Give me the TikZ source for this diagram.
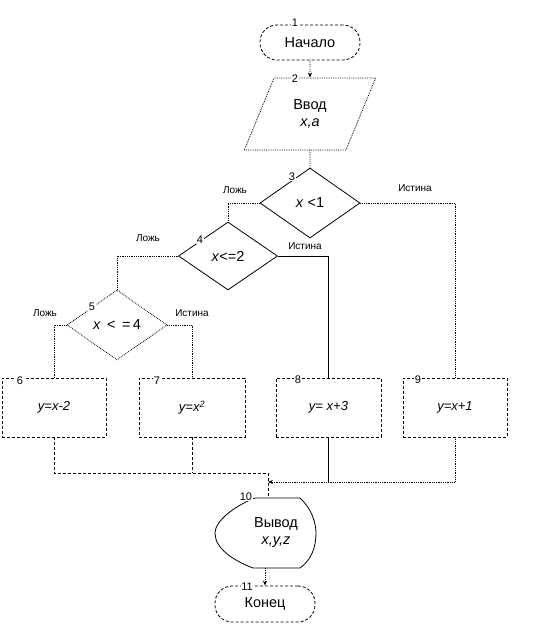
\documentclass[tikz,border=0pt]{standalone}
\usepackage{fontspec}
\setmainfont{Liberation Sans}
\usetikzlibrary{shapes.geometric,arrows.meta}

\begin{document}
\begin{tikzpicture}
[x=1pt,y=-1pt,line width=.8pt,
 every node/.style={font=\fontsize{14.5}{17}\selectfont},
 term/.style={draw,densely dashed,rounded corners=17pt,minimum width=100pt,minimum height=35pt},
 io/.style={draw,densely dotted,trapezium,trapezium left angle=65,trapezium right angle=115,
   trapezium stretches,minimum width=132pt,minimum height=72pt,align=center},
 cond/.style={draw,diamond,minimum width=100pt,minimum height=70pt,inner sep=0pt},
 act/.style={draw,densely dashed,minimum width=105pt,minimum height=59pt,font=\fontsize{13}{15}\selectfont\itshape},
 num/.style={fill=white,inner sep=.5pt,font=\fontsize{11}{13}\selectfont},
 lbl/.style={font=\fontsize{10}{12}\selectfont},
 flow/.style={densely dotted},
 tip/.style={-{Stealth[length=5pt,width=4pt]}}]
\useasboundingbox (0,0) rectangle (536,638);

\node[term] (start) at (310,42.5) {Начало};
\node[io] (in) at (310,114) {Ввод\\\textit{x,a}};
\node[cond] (d3) at (310,203) {\textit{x} <1};
\node[cond,minimum width=99pt,minimum height=68pt] (d4) at (228,256) {\textit{x}<=2};
\node[cond,densely dotted] (d5) at (117,325) {\textit{x} \,<\, =\,4};
\node[act,minimum width=104pt] (b6) at (54,407.5) {y=x-2};
\node[act,minimum width=106pt] (b7) at (192,407.5) {y=x\textsuperscript{2}};
\node[act] (b8) at (328.5,407.5) {y= x+3};
\node[act,minimum width=104pt] (b9) at (455,407.5) {y=x+1};
\node[align=center] (out) at (276,533) {Вывод\\\textit{x,y,z}};
\node[term,minimum height=36pt] (stop) at (265,604) {Конец};

% display symbol
\draw (255,498) -- (300,498) .. controls (311,508) and (316,522) .. (316,533)
  .. controls (316,548) and (311,560) .. (300,568) -- (253,568)
  .. controls (232,560) and (215,548) .. (215,533)
  .. controls (215,522) and (232,507) .. (255,498);

% numbers
\foreach \n/\pos in {1/{(295,23)},2/{(295,79)},3/{(292,177)},4/{(200,240)},5/{(92,307)},
  6/{(20,381)},7/{(157,381)},8/{(298,380)},9/{(418,380)},10/{(246,497)},11/{(247,587)}}
  \node[num] (n\n) at \pos {\n};

% branch labels
\node[lbl] (f3) at (235,190) {Ложь};
\node[lbl] (t3) at (415,188) {Истина};
\node[lbl] (f4) at (148,238) {Ложь};
\node[lbl] (t4) at (305,246) {Истина};
\node[lbl] (f5) at (45,313) {Ложь};
\node[lbl] (t5) at (192,313) {Истина};

\draw[flow,tip] (start) -- (in);
\draw[flow] (in) -- (d3);
\foreach \from/\to in {d3.west/d4.north,d3.east/b9.north,d4.west/d5.north,d5.west/b6.north,d5.east/b7.north}
  \draw[flow] (\from) -| (\to);
\draw (d4.east) -| (b8.north);

\coordinate (j1) at (268,473);
\coordinate (j2) at (268,482);
\coordinate (outtop) at (268,498);
\coordinate (outbot) at (265,568);
\draw[densely dashed] (b6.south) |- (j1) -- (outtop);
\draw[densely dashed] (b7.south) -- (b7.south |- j1);
\draw[flow,tip] (b9.south) |- (j2);
\draw (b8.south) -- (b8.south |- j2);
\draw[flow,tip] (outbot) -- (stop);

\end{tikzpicture}
\end{document}
